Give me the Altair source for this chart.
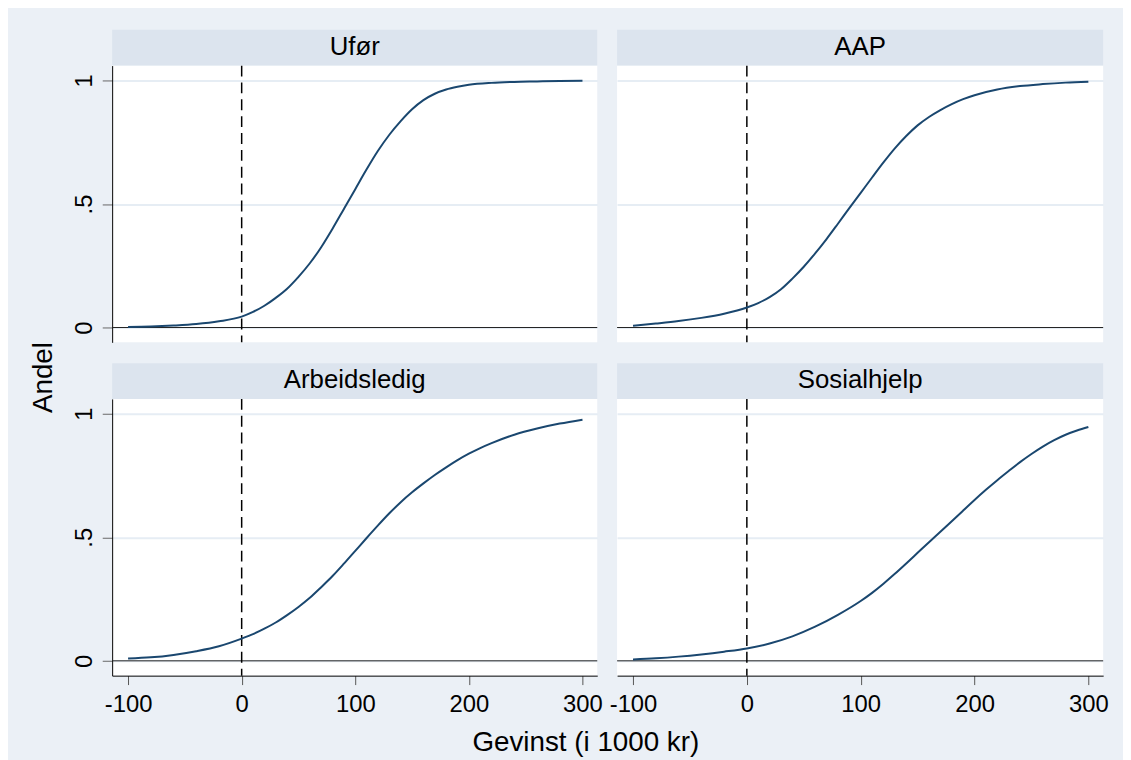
import altair as alt
import pandas as pd

FONT = "Liberation Sans"
BG = "#EBF0F6"
STRIP = "#DCE4EE"
GRID = "#E6EDF4"
NAVY = "#1A476F"

CATS = ["Ufør", "AAP", "Arbeidsledig", "Sosialhjelp"]

UFOR_X = [-100, -80, -60, -40, -20, 0, 10, 20, 30, 40, 50, 60, 70, 80, 90, 100, 110, 120, 130, 140,
          150, 160, 170, 180, 190, 200, 220, 240, 260, 280, 300]
UFOR_Y = [0.002, 0.004, 0.008, 0.014, 0.025, 0.044, 0.063, 0.088, 0.12, 0.157, 0.205, 0.26, 0.325, 0.40,
          0.48, 0.56, 0.64, 0.715, 0.78, 0.835, 0.883, 0.92, 0.946, 0.963, 0.974, 0.982, 0.99, 0.994,
          0.996, 0.998, 0.999]

AAP_X = [-100, -80, -60, -40, -20, 0, 10, 20, 30, 40, 50, 60, 70, 80, 90, 100, 110, 120, 130, 140,
         150, 160, 170, 180, 190, 200, 220, 240, 260, 280, 300]
AAP_Y = [0.007, 0.016, 0.026, 0.039, 0.056, 0.081, 0.099, 0.123, 0.155, 0.198, 0.246, 0.30, 0.358, 0.42,
         0.483, 0.545, 0.607, 0.668, 0.725, 0.775, 0.818, 0.852, 0.88, 0.904, 0.924, 0.94, 0.963, 0.977,
         0.985, 0.991, 0.995]

ARB_X = [-100, -80, -60, -40, -20, 0, 10, 20, 30, 40, 50, 60, 70, 80, 90, 100, 110, 120, 130, 140,
         150, 160, 170, 180, 190, 200, 210, 220, 240, 260, 280, 300]
ARB_Y = [0.009, 0.014, 0.024, 0.039, 0.059, 0.09, 0.108, 0.13, 0.155, 0.185, 0.218, 0.255, 0.298, 0.343,
         0.393, 0.445, 0.497, 0.548, 0.597, 0.642, 0.682, 0.718, 0.752, 0.783, 0.812, 0.838, 0.861, 0.881,
         0.915, 0.94, 0.96, 0.976]

SOS_X = [-100, -80, -60, -40, -20, 0, 20, 40, 60, 80, 100, 110, 120, 130, 140, 150, 160, 170, 180, 190,
         200, 210, 220, 230, 240, 250, 260, 270, 280, 290, 300]
SOS_Y = [0.005, 0.01, 0.017, 0.026, 0.037, 0.05, 0.07, 0.099, 0.138, 0.186, 0.242, 0.275, 0.312, 0.352,
         0.394, 0.437, 0.48, 0.522, 0.565, 0.608, 0.651, 0.692, 0.731, 0.768, 0.804, 0.837, 0.867, 0.893,
         0.915, 0.932, 0.946]

SERIES_X = [UFOR_X, AAP_X, ARB_X, SOS_X]
SERIES_Y = [UFOR_Y, AAP_Y, ARB_Y, SOS_Y]

X_TICKS = [-100, 0, 100, 200, 300]
Y_TICKS = [0, 0.5, 1]
Y_TICK_LABELS = ["0", ".5", "1"]
X_DOMAIN = [-114, 313]
Y_DOMAIN = [-0.06, 1.06]
REF_X = [0]
REF_Y = [0]

X_TITLE = "Gevinst (i 1000 kr)"
Y_TITLE = "Andel"

y_label_expr = "'" + Y_TICK_LABELS[-1] + "'"
for v, lab in reversed(list(zip(Y_TICKS[:-1], Y_TICK_LABELS[:-1]))):
    y_label_expr = f"datum.value == {v} ? '{lab}' : " + y_label_expr

xs = alt.Scale(domain=X_DOMAIN, nice=False, zero=False)
ys = alt.Scale(domain=Y_DOMAIN, nice=False, zero=False)

PLOT_H = 279
STRIP_H = 36


def make_panel(i, cat):
    col = i % 2
    row = i // 2
    W = 489 if col == 0 else 490

    if col == 0:
        ykw = dict(values=Y_TICKS, labelExpr=y_label_expr, labelAngle=270, labelAlign="center",
                   labelBaseline="alphabetic", labelFont=FONT, labelFontSize=24, labelColor="black",
                   labelPadding=11, tickSize=10, tickColor="#666666", tickWidth=1,
                   domainColor="black", domainWidth=1, grid=True, gridColor=GRID, gridWidth=2)
        if i == 0:
            ykw.update(title=Y_TITLE, titleAngle=270, titleX=-61, titleY=314, titleAlign="center",
                       titleBaseline="alphabetic", titleFont=FONT, titleFontSize=28,
                       titleFontWeight="normal", titleColor="black")
        else:
            ykw.update(title="")
    else:
        ykw = dict(values=Y_TICKS, labels=False, ticks=False, domain=False, grid=True,
                   gridColor=GRID, gridWidth=2, title="")
    ya = alt.Axis(**ykw)

    if row == 1:
        xkw = dict(values=X_TICKS, labelExpr="'' + datum.value", labelFont=FONT, labelFontSize=24,
                   labelColor="black", labelPadding=8, tickSize=9, tickColor="#555555", tickWidth=1,
                   domainColor="black", domainWidth=1, grid=False, labelFlush=False)
        if i == 2:
            xkw.update(title=X_TITLE, titleX=477, titleY=75, titleAlign="center",
                       titleBaseline="alphabetic", titleFont=FONT, titleFontSize=28,
                       titleFontWeight="normal", titleColor="black")
        else:
            xkw.update(title="")
    else:
        xkw = dict(labels=False, ticks=False, domain=False, grid=False, title="")
    xa = alt.Axis(**xkw)

    df = pd.DataFrame({"x": SERIES_X[i], "y": SERIES_Y[i]})
    lab = pd.DataFrame({"label": [cat]})

    # facet strip (header band above the plot area)
    strip_bg = alt.Chart(lab).mark_rect(color=STRIP, clip=False).encode(
        x=alt.value(0), x2=alt.value(W), y=alt.value(-STRIP_H), y2=alt.value(0))
    strip_txt = alt.Chart(lab).mark_text(
        font=FONT, fontSize=26, color="black", align="center", baseline="alphabetic").encode(
        text="label:N", x=alt.value(W / 2), y=alt.value(-11))

    zero = alt.Chart(pd.DataFrame({"y": REF_Y})).mark_rule(color="#222222", strokeWidth=1).encode(
        y=alt.Y("y:Q", scale=ys, axis=ya))
    vline = alt.Chart(pd.DataFrame({"x": REF_X})).mark_rule(
        color="black", strokeWidth=1.5, strokeDash=[11, 6]).encode(
        x=alt.X("x:Q", scale=xs, axis=xa))
    line = alt.Chart(df).mark_line(color=NAVY, strokeWidth=2, interpolate="monotone").encode(
        x=alt.X("x:Q", scale=xs, axis=xa),
        y=alt.Y("y:Q", scale=ys, axis=ya))

    return alt.layer(zero, vline, line, strip_bg, strip_txt).properties(
        width=W, height=PLOT_H, view=alt.ViewBackground(fill="white", stroke=None))


panels = [make_panel(i, c) for i, c in enumerate(CATS)]

chart = alt.concat(
    *panels, columns=2, spacing={"row": 21 + STRIP_H, "column": 20}, bounds="flush"
).properties(
    background=BG,
    padding={"left": 22, "top": 19, "right": 14, "bottom": 2},
).configure_view(stroke=None)

chart.save("out.html", embed_options={"renderer": "svg", "actions": False})
